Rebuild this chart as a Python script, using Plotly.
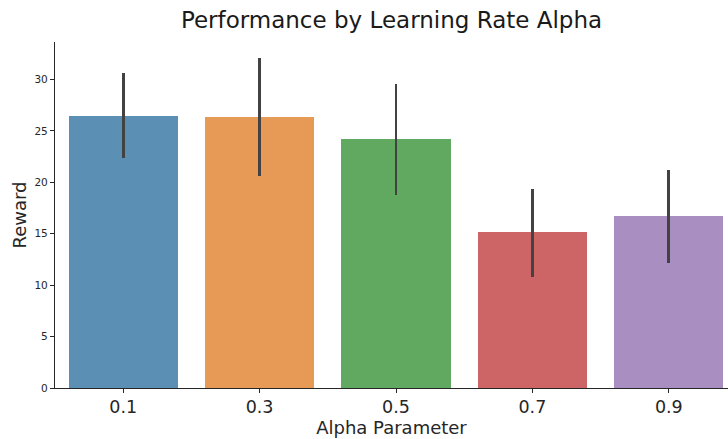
import plotly.graph_objects as go

categories = ["0.1", "0.3", "0.5", "0.7", "0.9"]
mean_reward = [26.5, 26.4, 24.17, 15.15, 16.7]
ci_low = [22.33, 20.6, 18.77, 10.8, 12.19]
ci_high = [30.64, 32.13, 29.61, 19.32, 21.22]
bar_colors = ["#3274a1", "#e1812c", "#3a923a", "#c03d3e", "#9372b2"]
y_ticks = [0, 5, 10, 15, 20, 25, 30]

err_plus = [h - m for h, m in zip(ci_high, mean_reward)]
err_minus = [m - l for m, l in zip(mean_reward, ci_low)]

fig = go.Figure()
fig.add_trace(go.Bar(
    x=list(range(len(categories))),
    y=mean_reward,
    width=0.8,
    marker=dict(color=bar_colors, opacity=0.8, line=dict(width=0)),
    error_y=dict(type="data", symmetric=False, array=err_plus, arrayminus=err_minus,
                 width=0, thickness=2.8, color="#424242"),
    showlegend=False,
))

FONT = "DejaVu Sans"
fig.update_layout(
    width=728, height=439,
    margin=dict(l=55, r=0, t=42, b=51),
    paper_bgcolor="white", plot_bgcolor="white",
    font=dict(family=FONT, color="#262626"),
    title=dict(text="Performance by Learning Rate Alpha", x=0.5, xref="paper",
               y=1 - 20 / 439, yref="container", xanchor="center", yanchor="middle",
               font=dict(size=23, family=FONT, color="#1a1a1a")),
    bargap=0,
)
fig.update_xaxes(
    range=[-0.5, 4.434],
    tickvals=list(range(len(categories))), ticktext=categories,
    tickfont=dict(size=17.5, family=FONT, color="#262626"),
    ticks="outside", ticklen=4, tickcolor="#262626", tickwidth=1,
    ticklabelstandoff=-1,
    showline=True, linecolor="#262626", linewidth=1.2,
    showgrid=False, zeroline=False,
    title=dict(text="Alpha Parameter", font=dict(size=18, family=FONT, color="#262626"), standoff=4),
)
fig.update_yaxes(
    range=[0, 33.65],
    tickvals=y_ticks,
    tickfont=dict(size=10.5, family=FONT, color="#262626"),
    ticks="outside", ticklen=4, tickcolor="#262626", tickwidth=1,
    showline=True, linecolor="#262626", linewidth=1.2,
    showgrid=False, zeroline=False,
    title=dict(text="Reward", font=dict(size=18, family=FONT, color="#262626"), standoff=3),
)

fig.write_html("out.html", config={"displayModeBar": False},
               post_script="document.body.style.margin='0';document.body.style.overflow='hidden';")
